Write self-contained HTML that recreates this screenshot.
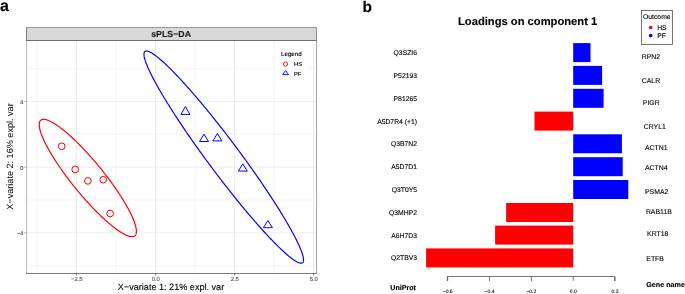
<!DOCTYPE html>
<html><head><meta charset="utf-8"><style>
html,body{margin:0;padding:0;background:#fff;width:685px;height:294px;overflow:hidden}
svg{display:block;font-family:"Liberation Sans", sans-serif;will-change:transform;text-rendering:geometricPrecision}
</style></head><body>
<svg width="685" height="294" viewBox="0 0 685 294">
<text x="0.0" y="10.8" font-size="16" text-anchor="start" font-weight="bold" fill="#000" stroke="#000" stroke-width="0.12" >a</text>
<rect x="26.3" y="40.3" width="290.0" height="232.89999999999998" fill="#fff"/>
<line x1="37.00" y1="40.3" x2="37.00" y2="273.2" stroke="#EBEBEB" stroke-width="0.5"/>
<line x1="116.00" y1="40.3" x2="116.00" y2="273.2" stroke="#EBEBEB" stroke-width="0.5"/>
<line x1="195.00" y1="40.3" x2="195.00" y2="273.2" stroke="#EBEBEB" stroke-width="0.5"/>
<line x1="274.00" y1="40.3" x2="274.00" y2="273.2" stroke="#EBEBEB" stroke-width="0.5"/>
<line x1="26.3" y1="68.63" x2="316.3" y2="68.63" stroke="#EBEBEB" stroke-width="0.5"/>
<line x1="26.3" y1="134.31" x2="316.3" y2="134.31" stroke="#EBEBEB" stroke-width="0.5"/>
<line x1="26.3" y1="199.99" x2="316.3" y2="199.99" stroke="#EBEBEB" stroke-width="0.5"/>
<line x1="26.3" y1="265.67" x2="316.3" y2="265.67" stroke="#EBEBEB" stroke-width="0.5"/>
<line x1="76.50" y1="40.3" x2="76.50" y2="273.2" stroke="#EBEBEB" stroke-width="0.9"/>
<line x1="155.50" y1="40.3" x2="155.50" y2="273.2" stroke="#EBEBEB" stroke-width="0.9"/>
<line x1="234.50" y1="40.3" x2="234.50" y2="273.2" stroke="#EBEBEB" stroke-width="0.9"/>
<line x1="313.50" y1="40.3" x2="313.50" y2="273.2" stroke="#EBEBEB" stroke-width="0.9"/>
<line x1="26.3" y1="101.47" x2="316.3" y2="101.47" stroke="#EBEBEB" stroke-width="0.9"/>
<line x1="26.3" y1="167.15" x2="316.3" y2="167.15" stroke="#EBEBEB" stroke-width="0.9"/>
<line x1="26.3" y1="232.83" x2="316.3" y2="232.83" stroke="#EBEBEB" stroke-width="0.9"/>
<path d="M136.41,231.35 L136.40,231.77 L136.38,232.18 L136.34,232.56 L136.29,232.93 L136.23,233.28 L136.14,233.62 L136.05,233.94 L135.94,234.24 L135.81,234.53 L135.67,234.79 L135.52,235.04 L135.35,235.28 L135.16,235.49 L134.97,235.69 L134.75,235.87 L134.53,236.03 L134.29,236.18 L134.03,236.31 L133.76,236.42 L133.48,236.51 L133.18,236.58 L132.87,236.64 L132.55,236.68 L132.21,236.70 L131.86,236.70 L131.49,236.68 L131.11,236.65 L130.72,236.60 L130.32,236.53 L129.90,236.44 L129.47,236.34 L129.03,236.22 L128.57,236.08 L128.10,235.92 L127.62,235.74 L127.13,235.55 L126.63,235.34 L126.11,235.11 L125.58,234.87 L125.04,234.61 L124.49,234.33 L123.93,234.03 L123.36,233.71 L122.77,233.38 L122.18,233.04 L121.57,232.67 L120.96,232.29 L120.33,231.89 L119.70,231.48 L119.05,231.05 L118.40,230.60 L117.73,230.14 L117.06,229.66 L116.38,229.17 L115.69,228.66 L114.99,228.13 L114.28,227.59 L113.57,227.03 L112.85,226.46 L112.12,225.88 L111.38,225.28 L110.63,224.66 L109.88,224.04 L109.12,223.39 L108.36,222.74 L107.58,222.07 L106.81,221.38 L106.02,220.69 L105.23,219.98 L104.44,219.26 L103.64,218.52 L102.84,217.77 L102.03,217.01 L101.21,216.24 L100.40,215.46 L99.57,214.67 L98.75,213.86 L97.92,213.04 L97.09,212.22 L96.26,211.38 L95.42,210.53 L94.58,209.67 L93.74,208.81 L92.90,207.93 L92.05,207.05 L91.21,206.15 L90.36,205.25 L89.52,204.34 L88.67,203.42 L87.82,202.49 L86.97,201.56 L86.12,200.61 L85.28,199.67 L84.43,198.71 L83.59,197.75 L82.74,196.78 L81.90,195.81 L81.06,194.83 L80.22,193.85 L79.38,192.86 L78.55,191.86 L77.72,190.87 L76.89,189.87 L76.07,188.86 L75.24,187.85 L74.43,186.84 L73.61,185.83 L72.80,184.81 L72.00,183.79 L71.20,182.77 L70.41,181.75 L69.62,180.73 L68.83,179.71 L68.06,178.68 L67.28,177.66 L66.52,176.63 L65.76,175.61 L65.01,174.59 L64.26,173.57 L63.53,172.54 L62.79,171.53 L62.07,170.51 L61.36,169.49 L60.65,168.48 L59.95,167.47 L59.26,166.47 L58.58,165.47 L57.91,164.47 L57.24,163.47 L56.59,162.48 L55.94,161.50 L55.31,160.52 L54.68,159.54 L54.07,158.57 L53.46,157.61 L52.87,156.65 L52.28,155.70 L51.71,154.76 L51.15,153.82 L50.60,152.89 L50.06,151.97 L49.53,151.06 L49.01,150.15 L48.51,149.26 L48.02,148.37 L47.54,147.49 L47.07,146.62 L46.61,145.76 L46.17,144.91 L45.74,144.07 L45.32,143.24 L44.92,142.42 L44.53,141.61 L44.15,140.81 L43.78,140.02 L43.43,139.25 L43.09,138.49 L42.77,137.74 L42.46,137.00 L42.16,136.27 L41.88,135.56 L41.61,134.86 L41.35,134.17 L41.11,133.50 L40.89,132.84 L40.67,132.19 L40.48,131.56 L40.29,130.94 L40.12,130.33 L39.97,129.75 L39.83,129.17 L39.70,128.61 L39.59,128.07 L39.50,127.54 L39.41,127.02 L39.35,126.52 L39.30,126.04 L39.26,125.57 L39.24,125.12 L39.23,124.69 L39.24,124.27 L39.26,123.86 L39.30,123.48 L39.35,123.11 L39.41,122.76 L39.50,122.42 L39.59,122.10 L39.70,121.80 L39.83,121.51 L39.97,121.25 L40.12,121.00 L40.29,120.76 L40.48,120.55 L40.67,120.35 L40.89,120.17 L41.11,120.01 L41.35,119.86 L41.61,119.73 L41.88,119.62 L42.16,119.53 L42.46,119.46 L42.77,119.40 L43.09,119.36 L43.43,119.34 L43.78,119.34 L44.15,119.36 L44.53,119.39 L44.92,119.44 L45.32,119.51 L45.74,119.60 L46.17,119.70 L46.61,119.82 L47.07,119.96 L47.54,120.12 L48.02,120.30 L48.51,120.49 L49.01,120.70 L49.53,120.93 L50.06,121.17 L50.60,121.43 L51.15,121.71 L51.71,122.01 L52.28,122.33 L52.87,122.66 L53.46,123.00 L54.07,123.37 L54.68,123.75 L55.31,124.15 L55.94,124.56 L56.59,124.99 L57.24,125.44 L57.91,125.90 L58.58,126.38 L59.26,126.87 L59.95,127.38 L60.65,127.91 L61.36,128.45 L62.07,129.01 L62.79,129.58 L63.52,130.16 L64.26,130.76 L65.01,131.38 L65.76,132.00 L66.52,132.65 L67.28,133.30 L68.06,133.97 L68.83,134.66 L69.62,135.35 L70.41,136.06 L71.20,136.78 L72.00,137.52 L72.80,138.27 L73.61,139.03 L74.43,139.80 L75.24,140.58 L76.07,141.37 L76.89,142.18 L77.72,143.00 L78.55,143.82 L79.38,144.66 L80.22,145.51 L81.06,146.37 L81.90,147.23 L82.74,148.11 L83.59,148.99 L84.43,149.89 L85.28,150.79 L86.12,151.70 L86.97,152.62 L87.82,153.55 L88.67,154.48 L89.52,155.43 L90.36,156.37 L91.21,157.33 L92.05,158.29 L92.90,159.26 L93.74,160.23 L94.58,161.21 L95.42,162.19 L96.26,163.18 L97.09,164.18 L97.92,165.17 L98.75,166.17 L99.57,167.18 L100.40,168.19 L101.21,169.20 L102.03,170.21 L102.84,171.23 L103.64,172.25 L104.44,173.27 L105.23,174.29 L106.02,175.31 L106.81,176.33 L107.58,177.36 L108.36,178.38 L109.12,179.41 L109.88,180.43 L110.63,181.45 L111.38,182.47 L112.12,183.50 L112.85,184.51 L113.57,185.53 L114.28,186.55 L114.99,187.56 L115.69,188.57 L116.38,189.57 L117.06,190.57 L117.73,191.57 L118.40,192.57 L119.05,193.56 L119.70,194.54 L120.33,195.52 L120.96,196.50 L121.57,197.47 L122.18,198.43 L122.77,199.39 L123.36,200.34 L123.93,201.28 L124.49,202.22 L125.04,203.15 L125.58,204.07 L126.11,204.98 L126.63,205.89 L127.13,206.78 L127.62,207.67 L128.10,208.55 L128.57,209.42 L129.03,210.28 L129.47,211.13 L129.90,211.97 L130.32,212.80 L130.72,213.62 L131.11,214.43 L131.49,215.23 L131.86,216.02 L132.21,216.79 L132.55,217.55 L132.87,218.30 L133.18,219.04 L133.48,219.77 L133.76,220.48 L134.03,221.18 L134.29,221.87 L134.53,222.54 L134.75,223.20 L134.97,223.85 L135.16,224.48 L135.35,225.10 L135.52,225.71 L135.67,226.29 L135.81,226.87 L135.94,227.43 L136.05,227.97 L136.14,228.50 L136.23,229.02 L136.29,229.52 L136.34,230.00 L136.38,230.47 L136.40,230.92 Z" fill="none" stroke="#FF0000" stroke-width="1.2"/>
<path d="M303.51,259.92 L303.50,260.36 L303.46,260.77 L303.40,261.15 L303.32,261.50 L303.21,261.81 L303.07,262.10 L302.92,262.35 L302.73,262.57 L302.53,262.76 L302.30,262.91 L302.04,263.03 L301.77,263.12 L301.47,263.18 L301.14,263.21 L300.79,263.20 L300.42,263.16 L300.02,263.09 L299.61,262.99 L299.16,262.85 L298.70,262.69 L298.21,262.49 L297.70,262.25 L297.17,261.99 L296.61,261.69 L296.04,261.37 L295.44,261.01 L294.82,260.62 L294.17,260.19 L293.51,259.74 L292.82,259.25 L292.12,258.74 L291.39,258.19 L290.64,257.61 L289.87,257.00 L289.08,256.36 L288.28,255.69 L287.45,254.99 L286.60,254.26 L285.73,253.51 L284.85,252.72 L283.94,251.90 L283.02,251.05 L282.08,250.18 L281.12,249.28 L280.15,248.34 L279.15,247.38 L278.14,246.40 L277.12,245.38 L276.07,244.34 L275.02,243.28 L273.94,242.18 L272.85,241.06 L271.75,239.92 L270.63,238.75 L269.49,237.55 L268.35,236.33 L267.19,235.09 L266.01,233.82 L264.82,232.53 L263.62,231.22 L262.41,229.88 L261.19,228.52 L259.95,227.14 L258.71,225.74 L257.45,224.32 L256.19,222.87 L254.91,221.41 L253.62,219.93 L252.33,218.43 L251.02,216.91 L249.71,215.37 L248.39,213.81 L247.06,212.24 L245.73,210.65 L244.39,209.04 L243.04,207.42 L241.68,205.78 L240.33,204.13 L238.96,202.46 L237.59,200.78 L236.22,199.08 L234.84,197.38 L233.46,195.66 L232.08,193.93 L230.69,192.18 L229.30,190.43 L227.91,188.67 L226.52,186.90 L225.13,185.11 L223.74,183.32 L222.35,181.52 L220.96,179.72 L219.57,177.91 L218.18,176.09 L216.79,174.26 L215.40,172.43 L214.02,170.60 L212.64,168.76 L211.26,166.92 L209.89,165.07 L208.52,163.22 L207.15,161.37 L205.80,159.52 L204.44,157.67 L203.09,155.82 L201.75,153.97 L200.42,152.12 L199.09,150.27 L197.77,148.42 L196.46,146.58 L195.15,144.74 L193.86,142.90 L192.57,141.07 L191.29,139.24 L190.03,137.42 L188.77,135.60 L187.53,133.79 L186.29,131.99 L185.07,130.19 L183.86,128.41 L182.66,126.63 L181.47,124.86 L180.29,123.10 L179.13,121.35 L177.99,119.61 L176.85,117.89 L175.73,116.17 L174.63,114.47 L173.54,112.78 L172.46,111.10 L171.41,109.44 L170.36,107.80 L169.34,106.16 L168.33,104.55 L167.33,102.95 L166.36,101.36 L165.40,99.80 L164.46,98.25 L163.54,96.71 L162.63,95.20 L161.75,93.71 L160.88,92.23 L160.03,90.78 L159.20,89.34 L158.40,87.93 L157.61,86.53 L156.84,85.16 L156.09,83.81 L155.36,82.48 L154.66,81.18 L153.97,79.90 L153.31,78.64 L152.66,77.41 L152.04,76.20 L151.44,75.01 L150.87,73.85 L150.31,72.71 L149.78,71.61 L149.27,70.52 L148.78,69.46 L148.32,68.43 L147.87,67.43 L147.46,66.46 L147.06,65.51 L146.69,64.59 L146.34,63.69 L146.01,62.83 L145.71,62.00 L145.44,61.19 L145.18,60.41 L144.95,59.67 L144.75,58.95 L144.56,58.26 L144.41,57.60 L144.27,56.97 L144.16,56.38 L144.08,55.81 L144.02,55.28 L143.98,54.77 L143.97,54.30 L143.98,53.86 L144.02,53.45 L144.08,53.07 L144.16,52.72 L144.27,52.41 L144.41,52.12 L144.56,51.87 L144.75,51.65 L144.95,51.46 L145.18,51.31 L145.44,51.19 L145.71,51.10 L146.01,51.04 L146.34,51.01 L146.69,51.02 L147.06,51.06 L147.46,51.13 L147.87,51.23 L148.32,51.37 L148.78,51.53 L149.27,51.73 L149.78,51.97 L150.31,52.23 L150.87,52.53 L151.44,52.85 L152.04,53.21 L152.66,53.60 L153.31,54.03 L153.97,54.48 L154.66,54.97 L155.36,55.48 L156.09,56.03 L156.84,56.61 L157.61,57.22 L158.40,57.86 L159.20,58.53 L160.03,59.23 L160.88,59.96 L161.75,60.71 L162.63,61.50 L163.54,62.32 L164.46,63.17 L165.40,64.04 L166.36,64.94 L167.33,65.88 L168.33,66.84 L169.34,67.82 L170.36,68.84 L171.41,69.88 L172.46,70.94 L173.54,72.04 L174.63,73.16 L175.73,74.30 L176.85,75.47 L177.99,76.67 L179.13,77.89 L180.29,79.13 L181.47,80.40 L182.66,81.69 L183.85,83.00 L185.07,84.34 L186.29,85.70 L187.53,87.08 L188.77,88.48 L190.03,89.90 L191.29,91.35 L192.57,92.81 L193.86,94.29 L195.15,95.79 L196.46,97.31 L197.77,98.85 L199.09,100.41 L200.42,101.98 L201.75,103.57 L203.09,105.18 L204.44,106.80 L205.80,108.44 L207.15,110.09 L208.52,111.76 L209.89,113.44 L211.26,115.14 L212.64,116.84 L214.02,118.56 L215.40,120.29 L216.79,122.04 L218.18,123.79 L219.57,125.55 L220.96,127.32 L222.35,129.11 L223.74,130.90 L225.13,132.70 L226.52,134.50 L227.91,136.31 L229.30,138.13 L230.69,139.96 L232.08,141.79 L233.46,143.62 L234.84,145.46 L236.22,147.30 L237.59,149.15 L238.96,151.00 L240.33,152.85 L241.68,154.70 L243.04,156.55 L244.39,158.40 L245.73,160.25 L247.06,162.10 L248.39,163.95 L249.71,165.80 L251.02,167.64 L252.33,169.48 L253.62,171.32 L254.91,173.15 L256.19,174.98 L257.45,176.80 L258.71,178.62 L259.95,180.43 L261.19,182.23 L262.41,184.03 L263.62,185.81 L264.82,187.59 L266.01,189.36 L267.19,191.12 L268.35,192.87 L269.49,194.61 L270.63,196.33 L271.75,198.05 L272.85,199.75 L273.94,201.44 L275.02,203.12 L276.07,204.78 L277.12,206.42 L278.14,208.06 L279.15,209.67 L280.15,211.27 L281.12,212.86 L282.08,214.42 L283.02,215.97 L283.94,217.51 L284.85,219.02 L285.73,220.51 L286.60,221.99 L287.45,223.44 L288.28,224.88 L289.08,226.29 L289.87,227.69 L290.64,229.06 L291.39,230.41 L292.12,231.74 L292.82,233.04 L293.51,234.32 L294.17,235.58 L294.82,236.81 L295.44,238.02 L296.04,239.21 L296.61,240.37 L297.17,241.51 L297.70,242.61 L298.21,243.70 L298.70,244.76 L299.16,245.79 L299.61,246.79 L300.02,247.76 L300.42,248.71 L300.79,249.63 L301.14,250.53 L301.47,251.39 L301.77,252.22 L302.04,253.03 L302.30,253.81 L302.53,254.55 L302.73,255.27 L302.92,255.96 L303.07,256.62 L303.21,257.25 L303.32,257.84 L303.40,258.41 L303.46,258.94 L303.50,259.45 Z" fill="none" stroke="#0000FF" stroke-width="1.2"/>
<circle cx="61.7" cy="146.3" r="3.35" fill="none" stroke="#FF0000" stroke-width="1"/>
<circle cx="75.2" cy="169.5" r="3.35" fill="none" stroke="#FF0000" stroke-width="1"/>
<circle cx="87.9" cy="180.9" r="3.35" fill="none" stroke="#FF0000" stroke-width="1"/>
<circle cx="103.2" cy="179.7" r="3.35" fill="none" stroke="#FF0000" stroke-width="1"/>
<circle cx="110.1" cy="213.5" r="3.35" fill="none" stroke="#FF0000" stroke-width="1"/>
<path d="M185.4,106.6 L189.9,114.4 L180.9,114.4 Z" fill="none" stroke="#0000FF" stroke-width="1" stroke-linejoin="miter"/>
<path d="M204.0,134.2 L208.5,141.5 L199.5,141.5 Z" fill="none" stroke="#0000FF" stroke-width="1" stroke-linejoin="miter"/>
<path d="M217.4,133.5 L221.9,140.9 L212.9,140.9 Z" fill="none" stroke="#0000FF" stroke-width="1" stroke-linejoin="miter"/>
<path d="M242.8,163.9 L247.3,171.1 L238.3,171.1 Z" fill="none" stroke="#0000FF" stroke-width="1" stroke-linejoin="miter"/>
<path d="M267.9,220.6 L272.4,227.70000000000002 L263.4,227.70000000000002 Z" fill="none" stroke="#0000FF" stroke-width="1" stroke-linejoin="miter"/>
<rect x="26" y="27" width="291" height="14" fill="#D9D9D9"/>
<rect x="26" y="27" width="291" height="1" fill="#9C9C9C"/>
<rect x="26" y="40" width="291" height="1" fill="#707070"/>
<rect x="26" y="28" width="1" height="12" fill="#7C7C7C"/>
<rect x="316" y="28" width="1" height="12" fill="#8C8C8C"/>
<rect x="26" y="41" width="1" height="232" fill="#BBBBBB"/>
<rect x="316" y="41" width="1" height="233" fill="#A2A2A2"/>
<rect x="26" y="273" width="291" height="1" fill="#7A7A7A"/>
<text x="171.1" y="36.6" font-size="8.8" text-anchor="middle" font-weight="bold" fill="#1A1A1A" stroke="#1A1A1A" stroke-width="0.12" >sPLS−DA</text>
<line x1="76.50" y1="273.2" x2="76.50" y2="275.4" stroke="#333" stroke-width="0.55"/>
<text x="76.8" y="280.8" font-size="5.9" text-anchor="middle" font-weight="normal" fill="#4D4D4D" stroke="#4D4D4D" stroke-width="0.1" >−2.5</text>
<line x1="155.50" y1="273.2" x2="155.50" y2="275.4" stroke="#333" stroke-width="0.55"/>
<text x="155.8" y="280.8" font-size="5.9" text-anchor="middle" font-weight="normal" fill="#4D4D4D" stroke="#4D4D4D" stroke-width="0.1" >0.0</text>
<line x1="234.50" y1="273.2" x2="234.50" y2="275.4" stroke="#333" stroke-width="0.55"/>
<text x="234.8" y="280.8" font-size="5.9" text-anchor="middle" font-weight="normal" fill="#4D4D4D" stroke="#4D4D4D" stroke-width="0.1" >2.5</text>
<line x1="313.50" y1="273.2" x2="313.50" y2="275.4" stroke="#333" stroke-width="0.55"/>
<text x="313.8" y="280.8" font-size="5.9" text-anchor="middle" font-weight="normal" fill="#4D4D4D" stroke="#4D4D4D" stroke-width="0.1" >5.0</text>
<line x1="24.1" y1="101.47" x2="26.3" y2="101.47" stroke="#666" stroke-width="0.5"/>
<text x="23.3" y="103.87" font-size="5.6" text-anchor="end" font-weight="normal" fill="#4D4D4D" stroke="#4D4D4D" stroke-width="0.1" >4</text>
<line x1="24.1" y1="167.15" x2="26.3" y2="167.15" stroke="#666" stroke-width="0.5"/>
<text x="23.3" y="169.55" font-size="5.6" text-anchor="end" font-weight="normal" fill="#4D4D4D" stroke="#4D4D4D" stroke-width="0.1" >0</text>
<line x1="24.1" y1="232.83" x2="26.3" y2="232.83" stroke="#666" stroke-width="0.5"/>
<text x="23.3" y="235.23" font-size="5.6" text-anchor="end" font-weight="normal" fill="#4D4D4D" stroke="#4D4D4D" stroke-width="0.1" >−4</text>
<text x="171.0" y="289.9" font-size="9.1" text-anchor="middle" font-weight="normal" fill="#000" stroke="#000" stroke-width="0.12" >X−variate 1: 21% expl. var</text>
<text x="0" y="0" font-size="9.1" text-anchor="middle" transform="translate(13.4,156.5) rotate(-90)">X−variate 2: 16% expl. var</text>
<rect x="275.2" y="45" width="33.8" height="35" fill="#fff"/>
<text x="281.0" y="55.7" font-size="6.2" text-anchor="start" font-weight="normal" fill="#000" stroke="#000" stroke-width="0.12" >Legend</text>
<circle cx="285.5" cy="64.1" r="2.1" fill="none" stroke="#FF0000" stroke-width="0.9"/>
<path d="M285.6,70.5 L288.6,74.6 L282.6,74.6 Z" fill="none" stroke="#0000FF" stroke-width="0.9" stroke-linejoin="miter"/>
<text x="294.0" y="66.4" font-size="5.8" text-anchor="start" font-weight="normal" fill="#000" stroke="#000" stroke-width="0.12" >HS</text>
<text x="294.0" y="75.7" font-size="5.8" text-anchor="start" font-weight="normal" fill="#000" stroke="#000" stroke-width="0.12" >PF</text>
<text x="362.5" y="11.6" font-size="15.5" text-anchor="start" font-weight="bold" fill="#000" stroke="#000" stroke-width="0.12" >b</text>
<text x="458.0" y="25.4" font-size="11.2" text-anchor="start" font-weight="bold" fill="#000" stroke="#000" stroke-width="0.12" >Loadings on component 1</text>
<rect x="641.5" y="10.5" width="31" height="34" fill="#fff" stroke="#555" stroke-width="0.8"/>
<text x="643.0" y="18.8" font-size="6.8" text-anchor="start" font-weight="normal" fill="#000" stroke="#000" stroke-width="0.12" >Outcome</text>
<circle cx="650.7" cy="27.5" r="1.8" fill="#FF0000"/>
<circle cx="650.7" cy="35.6" r="1.8" fill="#0000FF"/>
<text x="657.2" y="29.5" font-size="6.8" text-anchor="start" font-weight="normal" fill="#000" stroke="#000" stroke-width="0.12" >HS</text>
<text x="657.2" y="37.9" font-size="6.8" text-anchor="start" font-weight="normal" fill="#000" stroke="#000" stroke-width="0.12" >PF</text>
<rect x="573.2" y="43.1" width="17.30" height="19.0" fill="#0000FF"/>
<text x="417.0" y="55.1" font-size="6.8" text-anchor="end" font-weight="normal" fill="#000" stroke="#000" stroke-width="0.12" >Q3SZI6</text>
<text x="641.8" y="59.0" font-size="6.9" text-anchor="start" font-weight="normal" fill="#000" stroke="#000" stroke-width="0.12" >RPN2</text>
<rect x="573.2" y="65.9" width="28.90" height="19.0" fill="#0000FF"/>
<text x="417.0" y="77.9" font-size="6.8" text-anchor="end" font-weight="normal" fill="#000" stroke="#000" stroke-width="0.12" >P52193</text>
<text x="641.8" y="82.8" font-size="6.9" text-anchor="start" font-weight="normal" fill="#000" stroke="#000" stroke-width="0.12" >CALR</text>
<rect x="573.2" y="88.8" width="30.40" height="19.0" fill="#0000FF"/>
<text x="417.0" y="100.8" font-size="6.8" text-anchor="end" font-weight="normal" fill="#000" stroke="#000" stroke-width="0.12" >P81265</text>
<text x="642.8" y="105.0" font-size="6.9" text-anchor="start" font-weight="normal" fill="#000" stroke="#000" stroke-width="0.12" >PIGR</text>
<rect x="534.5" y="111.6" width="38.70" height="19.0" fill="#FF0000"/>
<text x="417.0" y="123.6" font-size="6.8" text-anchor="end" font-weight="normal" fill="#000" stroke="#000" stroke-width="0.12" >A5D7R4 (+1)</text>
<text x="643.8" y="128.8" font-size="6.9" text-anchor="start" font-weight="normal" fill="#000" stroke="#000" stroke-width="0.12" >CRYL1</text>
<rect x="573.2" y="134.3" width="48.70" height="19.0" fill="#0000FF"/>
<text x="417.0" y="146.3" font-size="6.8" text-anchor="end" font-weight="normal" fill="#000" stroke="#000" stroke-width="0.12" >Q3B7N2</text>
<text x="645.0" y="149.9" font-size="6.9" text-anchor="start" font-weight="normal" fill="#000" stroke="#000" stroke-width="0.12" >ACTN1</text>
<rect x="573.2" y="157.2" width="49.50" height="19.0" fill="#0000FF"/>
<text x="417.0" y="169.2" font-size="6.8" text-anchor="end" font-weight="normal" fill="#000" stroke="#000" stroke-width="0.12" >A5D7D1</text>
<text x="645.0" y="169.8" font-size="6.9" text-anchor="start" font-weight="normal" fill="#000" stroke="#000" stroke-width="0.12" >ACTN4</text>
<rect x="573.2" y="180.0" width="55.10" height="19.0" fill="#0000FF"/>
<text x="417.0" y="192.0" font-size="6.8" text-anchor="end" font-weight="normal" fill="#000" stroke="#000" stroke-width="0.12" >Q3T0Y5</text>
<text x="645.0" y="193.6" font-size="6.9" text-anchor="start" font-weight="normal" fill="#000" stroke="#000" stroke-width="0.12" >PSMA2</text>
<rect x="506.1" y="203.0" width="67.10" height="19.0" fill="#FF0000"/>
<text x="417.0" y="215.0" font-size="6.8" text-anchor="end" font-weight="normal" fill="#000" stroke="#000" stroke-width="0.12" >Q3MHP2</text>
<text x="645.9" y="213.7" font-size="6.9" text-anchor="start" font-weight="normal" fill="#000" stroke="#000" stroke-width="0.12" >RAB11B</text>
<rect x="495.1" y="225.6" width="78.10" height="19.0" fill="#FF0000"/>
<text x="417.0" y="237.6" font-size="6.8" text-anchor="end" font-weight="normal" fill="#000" stroke="#000" stroke-width="0.12" >A6H7D3</text>
<text x="647.1" y="235.8" font-size="6.9" text-anchor="start" font-weight="normal" fill="#000" stroke="#000" stroke-width="0.12" >KRT18</text>
<rect x="426.1" y="248.4" width="147.10" height="19.0" fill="#FF0000"/>
<text x="417.0" y="260.4" font-size="6.8" text-anchor="end" font-weight="normal" fill="#000" stroke="#000" stroke-width="0.12" >Q2TBV3</text>
<text x="646.3" y="261.1" font-size="6.9" text-anchor="start" font-weight="normal" fill="#000" stroke="#000" stroke-width="0.12" >ETFB</text>
<path d="M447.3,281 L447.3,276.5 L614.6,276.5 L614.6,281" fill="none" stroke="#555" stroke-width="0.8"/>
<line x1="447.68" y1="276.5" x2="447.68" y2="281" stroke="#555" stroke-width="0.8"/>
<text x="447.68" y="292.8" font-size="5.0" text-anchor="middle" font-weight="normal" fill="#000" stroke="#000" stroke-width="0.1" >−0.6</text>
<line x1="489.52" y1="276.5" x2="489.52" y2="281" stroke="#555" stroke-width="0.8"/>
<text x="489.52" y="292.8" font-size="5.0" text-anchor="middle" font-weight="normal" fill="#000" stroke="#000" stroke-width="0.1" >−0.4</text>
<line x1="531.36" y1="276.5" x2="531.36" y2="281" stroke="#555" stroke-width="0.8"/>
<text x="531.36" y="292.8" font-size="5.0" text-anchor="middle" font-weight="normal" fill="#000" stroke="#000" stroke-width="0.1" >−0.2</text>
<line x1="573.20" y1="276.5" x2="573.20" y2="281" stroke="#555" stroke-width="0.8"/>
<text x="573.2" y="292.8" font-size="5.0" text-anchor="middle" font-weight="normal" fill="#000" stroke="#000" stroke-width="0.1" >0.0</text>
<line x1="615.04" y1="276.5" x2="615.04" y2="281" stroke="#555" stroke-width="0.8"/>
<text x="615.04" y="292.8" font-size="5.0" text-anchor="middle" font-weight="normal" fill="#000" stroke="#000" stroke-width="0.1" >0.2</text>
<text x="390.3" y="289.6" font-size="7.1" text-anchor="start" font-weight="bold" fill="#000" stroke="#000" stroke-width="0.15" >UniProt</text>
<text x="646.2" y="287.0" font-size="7.2" text-anchor="start" font-weight="bold" fill="#000" stroke="#000" stroke-width="0.12" >Gene name</text>
</svg>
</body></html>
